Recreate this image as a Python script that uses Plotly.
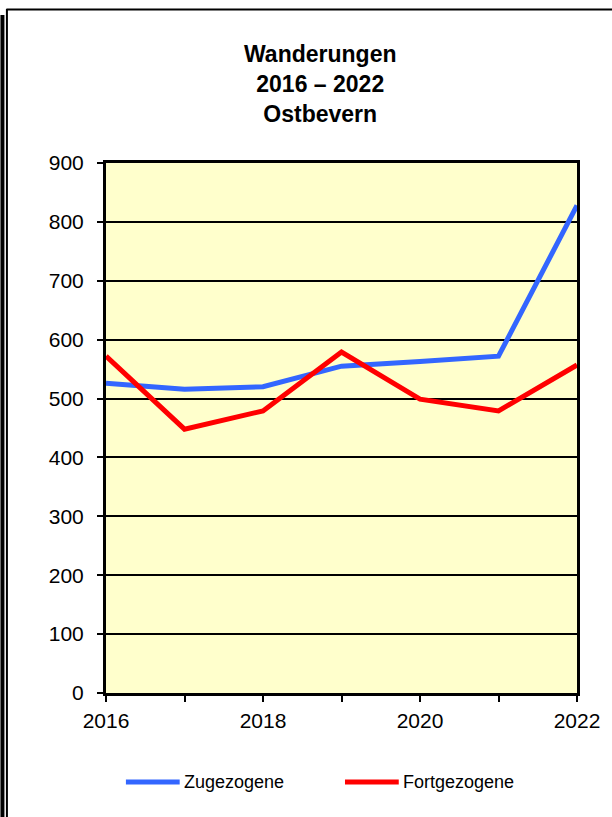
import plotly.graph_objects as go

years = [2016, 2017, 2018, 2019, 2020, 2021, 2022]
zugezogene = [526, 516, 520, 555, 563, 572, 828]
fortgezogene = [572, 448, 479, 579, 499, 479, 557]
y_ticks = [0, 100, 200, 300, 400, 500, 600, 700, 800, 900]
x_ticktext = [str(y) if y % 2 == 0 else "" for y in years]

BLUE = "#3366FF"
RED = "#FF0000"

W, H = 612, 817
L, R, T, B = 106, 579, 163, 693


def px(x):
    return (x - L) / (R - L)


def py(y):
    return (B - y) / (B - T)


fig = go.Figure()
fig.add_trace(go.Scatter(x=years, y=zugezogene, mode="lines", name="Zugezogene",
                         line=dict(color=BLUE, width=5), cliponaxis=False))
fig.add_trace(go.Scatter(x=years, y=fortgezogene, mode="lines", name="Fortgezogene",
                         line=dict(color=RED, width=5), cliponaxis=False))

font = "Liberation Sans, Arial, sans-serif"

fig.update_layout(
    width=W, height=H,
    margin=dict(l=L, r=W - R, t=T, b=H - B, pad=0),
    paper_bgcolor="white",
    plot_bgcolor="#FFFFCC",
    showlegend=False,
    font=dict(family=font, size=21, color="black"),
    xaxis=dict(range=[2016, 2022], tickvals=years, ticktext=x_ticktext,
               ticks="outside", ticklen=6, tickwidth=2, tickcolor="black",
               showline=True, linewidth=3, linecolor="black", mirror=True,
               showgrid=False, zeroline=False, tickfont=dict(size=21),
               ticklabelstandoff=1),
    yaxis=dict(range=[0, 900], tickvals=y_ticks, ticks="outside", ticklen=6,
               tickwidth=2, tickcolor="black",
               showline=True, linewidth=3, linecolor="black", mirror=True,
               showgrid=True, gridcolor="black", gridwidth=2, zeroline=False,
               tickfont=dict(size=21), ticklabelstandoff=9),
)

# Title
fig.add_annotation(text="<b>Wanderungen<br>2016 – 2022<br>Ostbevern</b>",
                   xref="paper", yref="paper", x=px(321), y=py(39),
                   xanchor="center", yanchor="top", showarrow=False,
                   font=dict(size=23, family=font, color="black"))

# Legend (manual)
legend_items = [("Zugezogene", BLUE, 126, 180), ("Fortgezogene", RED, 346, 400)]
for name, col, x0, x1 in legend_items:
    fig.add_shape(type="line", xref="paper", yref="paper",
                  x0=px(x0), x1=px(x1), y0=py(782), y1=py(782),
                  line=dict(color=col, width=5))
    fig.add_annotation(text=name, xref="paper", yref="paper",
                       x=px(x1 + 2), y=py(782), xanchor="left", yanchor="middle",
                       showarrow=False, font=dict(size=18, family=font))

# Frame
fig.add_shape(type="line", xref="paper", yref="paper",
              x0=px(6), x1=px(640), y0=py(9.5), y1=py(9.5),
              line=dict(color="black", width=2), layer="above")
fig.add_shape(type="line", xref="paper", yref="paper",
              x0=px(6.5), x1=px(6.5), y0=py(9), y1=py(830),
              line=dict(color="black", width=2), layer="above")
fig.add_shape(type="line", xref="paper", yref="paper",
              x0=px(2), x1=px(2), y0=py(15), y1=py(830),
              line=dict(color="black", width=4), layer="above")

fig.write_html("out.html", config={"displayModeBar": False},
               post_script="document.body.style.margin='0';document.body.style.overflow='hidden';")
